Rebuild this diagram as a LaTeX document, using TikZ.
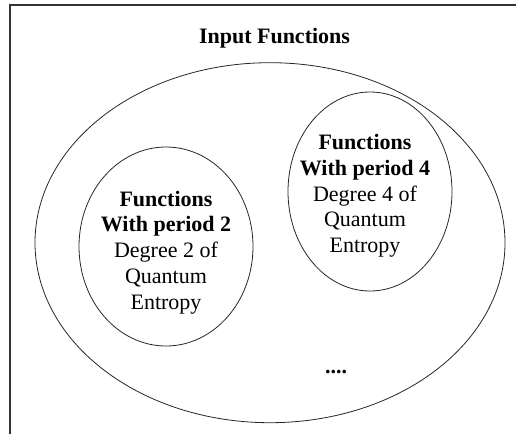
\documentclass[tikz,border=0pt]{standalone}
\usepackage{fontspec}
\setmainfont{Liberation Serif}
\usetikzlibrary{shapes.geometric}
\begin{document}
\begin{tikzpicture}[x=1pt,y=-1pt,
  set/.style={draw=black!85,line width=0.8pt,ellipse,inner sep=0pt},
  lbl/.style={inner sep=0pt,align=center,font=\fontsize{22}{25.8}\selectfont},
  frameline/.style={draw=black!80,line width=1.1pt}]
\useasboundingbox (0,0) rectangle (516,434);
\coordinate (fl) at (10,434);
\coordinate (tl) at (10,5);
\coordinate (tr) at (516,5);
\draw[frameline] (fl) -- (tl) -- (tr);
\node[set,minimum width=470pt,minimum height=360pt] (outer) at (270,242.7) {};
\node[set,minimum width=174pt,minimum height=199pt] (p2) at (166,246.5) {};
\node[set,minimum width=164pt,minimum height=199pt] (p4) at (370,191.5) {};
\node[lbl,anchor=base] (title) at (274.5,43) {\textbf{Input Functions}};
\node[lbl] (t2) at (166,252.4) {\textbf{Functions}\\ \textbf{With period 2}\\ Degree 2 of\\ Quantum\\ Entropy};
\node[lbl] (t4) at (365,195.9) {\textbf{Functions}\\ \textbf{With period 4}\\ Degree 4 of\\ Quantum\\ Entropy};
\node[lbl,anchor=base] (dots) at (336,373) {\textbf{....}};
\end{tikzpicture}
\end{document}
